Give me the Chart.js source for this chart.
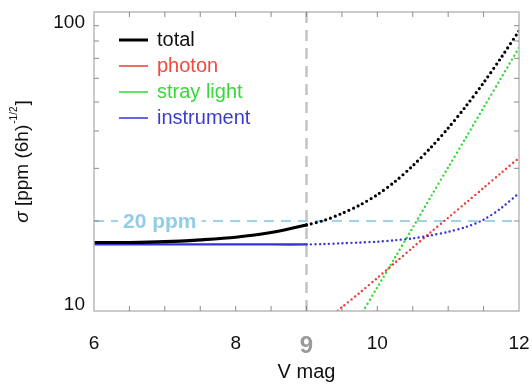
<!DOCTYPE html>
<html>
<head>
<meta charset="utf-8">
<script src="https://cdn.jsdelivr.net/npm/chart.js@4.4.1/dist/chart.umd.min.js"></script>
<style>
    html, body { margin: 0; padding: 0; background: #fff; }
    #wrap { width: 532px; height: 385px; }
</style>
</head>
<body>
<div id="wrap"><canvas id="noiseChart" width="532" height="385"></canvas></div>
<script>
// V magnitude grid (x) and noise contributions in ppm (6h)^-1/2
const vmag       = [6, 6.5, 7, 7.5, 8, 8.5, 9, 9.25, 9.5, 9.75, 10, 10.25, 10.5, 10.75, 11, 11.25, 11.5, 11.75, 12];
const total      = [16.95, 16.95, 17.05, 17.3, 17.65, 18.3, 19.4, 20.1, 21.2, 22.6, 24.5, 27.1, 30.6, 35.1, 40.9, 48.4, 58.0, 70.5, 86.5];
const photon     = [null, null, null, null, null, null, 8.2, 9.2, 10.3, 11.5, 12.9, 14.5, 16.3, 18.3, 20.5, 23.0, 25.8, 29.0, 32.5];
const strayLight = [null, null, null, null, null, null, null, 6.0, 7.6, 9.55, 12.0, 15.1, 19.0, 24.0, 30.2, 38.0, 47.9, 60.3, 76.0];
const instrument = [16.7, 16.7, 16.7, 16.7, 16.7, 16.7, 16.7, 16.75, 16.85, 16.95, 17.05, 17.25, 17.5, 17.9, 18.4, 19.1, 20.2, 22.1, 24.8];

const limitPpm = 20;      // horizontal requirement line
const limitMag = 9;       // vertical line at V = 9

const xTickValues  = [6, 8, 9, 10, 12];
const xMinorTicks  = [6.5, 7, 7.5, 8, 8.5, 9, 9.5, 10, 10.5, 11, 11.5];
const yTickValues  = [10, 100];
const yMinorTicks  = [20, 30, 40, 50, 60, 70, 80, 90];

const FONT = "'Liberation Sans', Arial, Helvetica, sans-serif";
Chart.defaults.font.family = FONT;

function points(ys) {
    return vmag.map((x, i) => ({ x: x, y: ys[i] }));
}

// solid up to V = 9, dotted beyond
function dottedAfterLimit(dash) {
    return {
        borderDash: ctx => ctx.p0.parsed.x >= limitMag ? dash : undefined
    };
}

const framePlugin = {
    id: "frame",
    afterDatasetsDraw(chart) {
        const ctx = chart.ctx;
        const area = chart.chartArea;
        const y = chart.scales.y;

        // "20 ppm" label sitting on the dashed line
        const ly = y.getPixelForValue(limitPpm);
        ctx.save();
        ctx.font = "bold 21px " + FONT;
        const lw = ctx.measureText("20 ppm").width;
        ctx.fillStyle = "#ffffff";
        ctx.fillRect(area.left + 24, ly - 10, lw + 10, 20);
        ctx.fillStyle = "#92cde6";
        ctx.textBaseline = "middle";
        ctx.fillText("20 ppm", area.left + 29, ly + 1);
        ctx.restore();
    },
    afterDraw(chart) {
        const ctx = chart.ctx;
        const area = chart.chartArea;
        const x = chart.scales.x;
        const y = chart.scales.y;

        ctx.save();
        // box
        ctx.strokeStyle = "#b9b9b9";
        ctx.lineWidth = 1.5;
        ctx.strokeRect(area.left, area.top, area.right - area.left, area.bottom - area.top);

        // inward tick marks
        ctx.strokeStyle = "#8a8a8a";
        ctx.lineWidth = 1;
        ctx.beginPath();
        xMinorTicks.forEach(v => {
            const px = x.getPixelForValue(v);
            ctx.moveTo(px, area.bottom); ctx.lineTo(px, area.bottom - 5);
            ctx.moveTo(px, area.top); ctx.lineTo(px, area.top + 5);
        });
        yMinorTicks.forEach(v => {
            const py = y.getPixelForValue(v);
            ctx.moveTo(area.left, py); ctx.lineTo(area.left + 5, py);
            ctx.moveTo(area.right, py); ctx.lineTo(area.right - 5, py);
        });
        ctx.stroke();

        // y tick labels (10 sits a bit above its line, 100 a bit below)
        ctx.fillStyle = "#111";
        ctx.font = "19px " + FONT;
        ctx.textAlign = "right";
        ctx.textBaseline = "middle";
        yTickValues.forEach(v => {
            const py = y.getPixelForValue(v);
            const shift = v === yTickValues[0] ? -6 : 11;
            ctx.fillText(String(v), area.left - 9, py + shift);
        });

        // y axis title with superscript
        const cy = (area.top + area.bottom) / 2;
        ctx.translate(23, cy);
        ctx.rotate(-Math.PI / 2);
        ctx.textAlign = "left";
        const fSig = "italic 19px " + FONT;
        const fMain = "19px " + FONT;
        const fSup = "10px " + FONT;
        ctx.font = fSig; const w1 = ctx.measureText("σ").width;
        ctx.font = fMain; const w2 = ctx.measureText(" [ppm (6h)").width;
        ctx.font = fSup; const w3 = ctx.measureText("-1/2").width;
        ctx.font = fMain; const w4 = ctx.measureText("]").width;
        let sx = -(w1 + w2 + w3 + w4 + 2) / 2;
        ctx.font = fSig; ctx.fillText("σ", sx, 0); sx += w1;
        ctx.font = fMain; ctx.fillText(" [ppm (6h)", sx, 0); sx += w2 + 1;
        ctx.font = fSup; ctx.fillText("-1/2", sx, -9); sx += w3 + 1;
        ctx.font = fMain; ctx.fillText("]", sx, 0);
        ctx.restore();

        // legend inside the plot
        ctx.save();
        ctx.font = "20px " + FONT;
        ctx.textBaseline = "middle";
        chart.data.datasets.filter(d => d.legendColor).forEach((d, i) => {
            const ry = area.top + 28 + i * 26;
            ctx.strokeStyle = d.borderColor;
            ctx.lineWidth = d.label === "total" ? 3 : 1.5;
            ctx.beginPath();
            ctx.moveTo(area.left + 25, ry);
            ctx.lineTo(area.left + 54, ry);
            ctx.stroke();
            ctx.fillStyle = d.legendColor;
            ctx.fillText(d.label, area.left + 63, ry);
        });
        ctx.restore();
    }
};

const ctx = document.getElementById("noiseChart").getContext("2d");
new Chart(ctx, {
    type: "line",
    data: {
        datasets: [
            {
                label: "total",
                data: points(total),
                borderColor: "#000000",
                legendColor: "#111111",
                borderWidth: 3.2,
                borderCapStyle: "round",
                tension: 0.3,
                segment: dottedAfterLimit([0, 5]),
                order: 0
            },
            {
                label: "photon",
                data: points(photon),
                borderColor: "#ec3b35",
                legendColor: "#f0493e",
                borderWidth: 2.4,
                borderCapStyle: "round",
                borderDash: [0, 4.5],
                tension: 0.3,
                order: 2
            },
            {
                label: "stray light",
                data: points(strayLight),
                borderColor: "#2fd82f",
                legendColor: "#38d838",
                borderWidth: 2.4,
                borderCapStyle: "round",
                borderDash: [0, 4.5],
                tension: 0.3,
                order: 3
            },
            {
                label: "instrument",
                data: points(instrument),
                borderColor: "#3535d2",
                legendColor: "#3b3bd0",
                borderWidth: 2.4,
                borderCapStyle: "round",
                tension: 0.3,
                segment: dottedAfterLimit([0, 4.5]),
                order: 1
            },
            {
                label: "20 ppm",
                data: [{ x: vmag[0], y: limitPpm }, { x: vmag[vmag.length - 1], y: limitPpm }],
                borderColor: "#9fd3ea",
                borderWidth: 2,
                borderDash: [10, 7],
                order: 5
            },
            {
                label: "V = 9",
                data: [{ x: limitMag, y: yTickValues[0] }, { x: limitMag, y: yTickValues[1] }],
                borderColor: "#c4c4c4",
                borderWidth: 2.5,
                borderDash: [11, 7],
                order: 4
            }
        ]
    },
    options: {
        responsive: false,
        animation: false,
        events: [],
        elements: { point: { radius: 0 } },
        layout: { padding: { top: 12, right: 13, bottom: 0, left: 0 } },
        plugins: {
            legend: { display: false },
            tooltip: { enabled: false }
        },
        scales: {
            x: {
                type: "linear",
                min: vmag[0],
                max: vmag[vmag.length - 1],
                grid: { display: false },
                border: { display: false },
                afterBuildTicks: scale => {
                    scale.ticks = xTickValues.map(v => ({ value: v }));
                },
                afterFit: scale => {
                    scale.height = 74;
                    scale.paddingLeft = 0;
                    scale.paddingRight = 0;
                },
                ticks: {
                    padding: 13,
                    autoSkip: false,
                    maxRotation: 0,
                    callback: v => String(v),
                    color: c => c.tick && c.tick.value === limitMag ? "#9a9a9a" : "#111111",
                    font: c => c.tick && c.tick.value === limitMag
                        ? { size: 24, weight: "bold" }
                        : { size: 19 }
                },
                title: {
                    display: true,
                    text: "V mag",
                    color: "#111111",
                    font: { size: 20 },
                    padding: { top: 0, bottom: 1 }
                }
            },
            y: {
                type: "logarithmic",
                min: yTickValues[0],
                max: yTickValues[1],
                grid: { display: false },
                border: { display: false },
                ticks: { display: false },
                afterFit: scale => { scale.width = 94; }
            }
        }
    },
    plugins: [framePlugin]
});
</script>
</body>
</html>
